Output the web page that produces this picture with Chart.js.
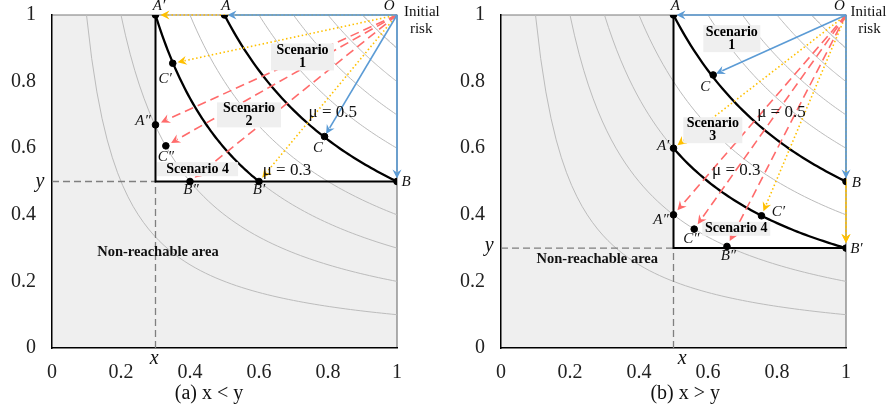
<!DOCTYPE html>
<html lang="en">
<head>
  <meta charset="UTF-8">
  <title>Risk reduction scenarios</title>
  <script src="https://cdn.jsdelivr.net/npm/chart.js"></script>
  <style>
    body { margin: 0; background: #fff; }
    .wrap { position: relative; width: 889px; height: 414px; }
    canvas { position: absolute; top: 0; }
    #left { left: 0; }
    #right { left: 445px; }
  </style>
</head>
<body>
  <div class="wrap">
    <canvas id="left" width="445" height="414"></canvas>
    <canvas id="right" width="444" height="414"></canvas>
  </div>

  <script>
    // iso-risk levels (x * y = level) and the two highlighted ones
    const contourLevels = [0.1, 0.2, 0.3, 0.4, 0.5, 0.6, 0.7, 0.8, 0.9];
    const muLevels = [0.5, 0.3];
    const axisTicks = [0, 0.2, 0.4, 0.6, 0.8, 1];
    const initialRisk = [1, 1];
    const pointNames = ["A", "C", "B", "A′", "C′", "B′", "A″", "C″", "B″"];

    // (a) x < y
    const leftThreshold = [0.3, 0.5];
    const leftX = [0.5, 0.79, 1, 0.3, 0.35, 0.6, 0.3, 0.33, 0.4];
    const leftY = [1, 0.635, 0.5, 1, 0.855, 0.5, 0.67, 0.607, 0.5];

    // (b) x > y
    const rightThreshold = [0.5, 0.3];
    const rightX = [0.5, 0.615, 1, 0.5, 0.755, 1, 0.5, 0.56, 0.655];
    const rightY = [1, 0.82, 0.5, 0.6, 0.397, 0.3, 0.4, 0.357, 0.305];

    // arrows from O, by scenario group
    const orangeTargets = ["A′", "C′", "B′"];
    const redTargets = ["A″", "C″", "B″"];
    const blueTargets = ["A", "C", "B"];

    const arrowStyle = {
      blue: { color: "#5b9bd5", width: 1.6, dash: [], shorten: 3 },
      orange: { color: "#ffc000", width: 1.6, dash: [1.5, 2.5], shorten: 5 },
      red: { color: "#ff6b6b", width: 1.6, dash: [9, 5], shorten: 6 }
    };

    const fonts = {
      pt: "italic 15px 'Liberation Serif'",
      mu: "17px 'Liberation Serif'",
      note: "15px 'Liberation Serif'",
      bold: "bold 14px 'Liberation Serif'",
      big: "bold 14.5px 'Liberation Serif'",
      axis: "italic 20px 'Liberation Serif'",
      caption: "20px 'Liberation Serif'"
    };

    function curve(level, x0, x1) {
      const pts = [];
      for (let i = 0; i <= 60; i++) {
        const x = x0 + (x1 - x0) * i / 60;
        pts.push({ x: x, y: level / x });
      }
      return pts;
    }

    function drawArrow(ctx, a, b, st) {
      const dx = b[0] - a[0], dy = b[1] - a[1];
      const len = Math.hypot(dx, dy);
      const ux = dx / len, uy = dy / len;
      const tip = [b[0] - ux * st.shorten, b[1] - uy * st.shorten];
      const base = [tip[0] - ux * 9, tip[1] - uy * 9];
      ctx.save();
      ctx.strokeStyle = st.color;
      ctx.lineWidth = st.width;
      ctx.setLineDash(st.dash);
      ctx.beginPath();
      ctx.moveTo(a[0], a[1]);
      ctx.lineTo(base[0] + ux * 2, base[1] + uy * 2);
      ctx.stroke();
      ctx.setLineDash([]);
      ctx.fillStyle = st.color;
      ctx.beginPath();
      ctx.moveTo(tip[0], tip[1]);
      ctx.lineTo(base[0] - uy * 4.5, base[1] + ux * 4.5);
      ctx.lineTo(base[0] + ux * 3, base[1] + uy * 3);
      ctx.lineTo(base[0] + uy * 4.5, base[1] - ux * 4.5);
      ctx.closePath();
      ctx.fill();
      ctx.restore();
    }

    function makePanel(id, panel) {
      const xs = panel.xs, ys = panel.ys;
      const [cx, cy] = panel.threshold;
      const at = name => { const i = pointNames.indexOf(name); return [xs[i], ys[i]]; };

      const datasets = [];
      datasets.push({
        data: xs.map((x, i) => ({ x: x, y: ys[i] })),
        showLine: false, pointRadius: 3.3, pointHoverRadius: 3.3,
        backgroundColor: "#000", borderColor: "#000", order: 0, tag: "points"
      });
      // mu curves: A..B on 0.5, A'..B' on 0.3
      muLevels.forEach((m, k) => {
        const from = at(k === 0 ? "A" : "A′")[0], to = at(k === 0 ? "B" : "B′")[0];
        datasets.push({
          data: curve(m, from, to), showLine: true, pointRadius: 0,
          borderColor: "#000", borderWidth: 2.3, order: 1
        });
      });
      datasets.push({
        data: [{ x: cx, y: 1 }, { x: cx, y: cy }, { x: 1, y: cy }],
        showLine: true, pointRadius: 0, borderColor: "#000", borderWidth: 2, order: 2
      });
      datasets.push({
        data: [{ x: 0, y: cy }, { x: cx, y: cy }],
        showLine: true, pointRadius: 0, borderColor: "#7f7f7f", borderWidth: 1.3,
        borderDash: [7, 4], order: 2
      });
      datasets.push({
        data: [{ x: cx, y: 0 }, { x: cx, y: cy }],
        showLine: true, pointRadius: 0, borderColor: "#7f7f7f", borderWidth: 1.3,
        borderDash: [7, 4], order: 2
      });
      contourLevels.forEach(l => {
        datasets.push({
          data: curve(l, l, 1), showLine: true, pointRadius: 0,
          borderColor: "#bcbcbc", borderWidth: 1, order: 3
        });
      });

      const decor = {
        id: "decor",
        beforeDraw(chart) {
          const { ctx, chartArea: a, scales } = chart;
          const px = scales.x.getPixelForValue(cx), py = scales.y.getPixelForValue(cy);
          ctx.save();
          ctx.fillStyle = "#efefef";
          ctx.fillRect(a.left, a.top, a.right - a.left, a.bottom - a.top);
          ctx.fillStyle = "#fff";
          ctx.fillRect(px, a.top, a.right - px, py - a.top);
          ctx.strokeStyle = "#7a7a7a";
          ctx.lineWidth = 1.2;
          ctx.beginPath();
          ctx.moveTo(a.left, a.top);
          ctx.lineTo(a.right, a.top);
          ctx.lineTo(a.right, a.bottom);
          ctx.stroke();
          ctx.restore();
        },
        beforeDatasetDraw(chart, args) {
          if (chart.data.datasets[args.index].tag !== "points") return;
          const { ctx, scales } = chart;
          const p = v => [scales.x.getPixelForValue(v[0]), scales.y.getPixelForValue(v[1])];
          const o = p(initialRisk);
          orangeTargets.forEach(n => drawArrow(ctx, o, p(at(n)), arrowStyle.orange));
          panel.extraArrows.forEach(e => drawArrow(ctx, p(at(e[0])), p(at(e[1])), arrowStyle[e[2]]));
          redTargets.forEach(n => drawArrow(ctx, o, p(at(n)), arrowStyle.red));
          blueTargets.forEach(n => drawArrow(ctx, o, p(at(n)), arrowStyle.blue));
        },
        afterDraw(chart) {
          const { ctx, scales } = chart;
          ctx.save();
          ctx.textAlign = "center";
          ctx.textBaseline = "middle";
          panel.boxes.forEach(b => {
            const x = scales.x.getPixelForValue(b[1]), y = scales.y.getPixelForValue(b[2]);
            ctx.fillStyle = "#efefef";
            ctx.fillRect(x - b[3] / 2, y - b[4] / 2, b[3], b[4]);
            ctx.fillStyle = "#000";
            ctx.font = fonts.bold;
            const lh = 13;
            b[0].forEach((t, i) => ctx.fillText(t, x, y + (i - (b[0].length - 1) / 2) * lh));
          });
          panel.labels.forEach(l => {
            ctx.font = fonts[l[3] || "pt"];
            ctx.fillStyle = "#111";
            ctx.fillText(l[0], scales.x.getPixelForValue(l[1]), scales.y.getPixelForValue(l[2]));
          });
          ctx.restore();
        }
      };

      const tickFont = { family: "'Liberation Serif'", size: 20 };
      return new Chart(document.getElementById(id), {
        type: "scatter",
        data: { datasets: datasets },
        options: {
          responsive: false,
          animation: false,
          layout: { padding: { left: 0, top: 15, right: panel.right, bottom: 0 } },
          plugins: { legend: { display: false }, tooltip: { enabled: false } },
          scales: {
            x: {
              min: 0, max: 1,
              grid: { display: false, drawTicks: false },
              border: { display: true, color: "#000", width: 1.5 },
              afterBuildTicks: s => { s.ticks = axisTicks.map(v => ({ value: v })); },
              afterFit: s => { s.height = 66; s.paddingLeft = 0; s.paddingRight = 0; },
              ticks: { font: tickFont, color: "#222", padding: 13, maxRotation: 0, autoSkip: false,
                callback: v => String(v) }
            },
            y: {
              min: 0, max: 1,
              grid: { display: false, drawTicks: false },
              border: { display: true, color: "#000", width: 1.5 },
              afterBuildTicks: s => { s.ticks = axisTicks.map(v => ({ value: v })); },
              afterFit: s => { s.width = panel.left; s.paddingTop = 0; s.paddingBottom = 0; },
              ticks: { font: tickFont, color: "#222", padding: 16, autoSkip: false,
                callback: v => String(v) }
            }
          }
        },
        plugins: [decor]
      });
    }

    makePanel("left", {
      threshold: leftThreshold, xs: leftX, ys: leftY, left: 52, right: 48,
      extraArrows: [],
      boxes: [
        [["Scenario", "1"], 0.726, 0.874, 63, 27],
        [["Scenario", "2"], 0.571, 0.700, 64, 25],
        [["Scenario 4"], 0.422, 0.537, 81, 14]
      ],
      labels: [
        ["A′", 0.31, 1.026], ["A", 0.504, 1.026], ["O", 0.977, 1.026],
        ["Initial", 1.072, 1.008, "note"], ["risk", 1.07, 0.957, "note"],
        ["C′", 0.328, 0.807], ["A″", 0.264, 0.681], ["C″", 0.33, 0.573],
        ["B″", 0.403, 0.473], ["B′", 0.6, 0.473], ["B", 1.026, 0.497], ["C", 0.771, 0.6],
        ["μ = 0.5", 0.814, 0.708, "mu"], ["μ = 0.3", 0.681, 0.533, "mu"],
        ["Non-reachable area", 0.307, 0.287, "big"],
        ["y", -0.035, 0.5, "axis"], ["x", 0.296, -0.031, "axis"],
        ["(a) x < y", 0.455, -0.136, "caption"]
      ]
    });

    makePanel("right", {
      threshold: rightThreshold, xs: rightX, ys: rightY, left: 56, right: 43,
      extraArrows: [["B", "B′", "orange"]],
      boxes: [
        [["Scenario", "1"], 0.669, 0.929, 57, 27],
        [["Scenario", "3"], 0.614, 0.654, 59, 26],
        [["Scenario 4"], 0.682, 0.358, 68, 14]
      ],
      labels: [
        ["A", 0.505, 1.026], ["O", 0.981, 1.026],
        ["Initial", 1.065, 1.008, "note"], ["risk", 1.068, 0.957, "note"],
        ["C", 0.592, 0.783], ["A′", 0.47, 0.606], ["B", 1.03, 0.494],
        ["A″", 0.464, 0.383], ["C′", 0.804, 0.407], ["C″", 0.552, 0.326],
        ["B″", 0.659, 0.275], ["B′", 1.03, 0.296],
        ["μ = 0.5", 0.813, 0.708, "mu"], ["μ = 0.3", 0.682, 0.533, "mu"],
        ["Non-reachable area", 0.279, 0.266, "big"],
        ["y", -0.034, 0.308, "axis"], ["x", 0.525, -0.031, "axis"],
        ["(b) x > y", 0.534, -0.136, "caption"]
      ]
    });
  </script>
</body>
</html>
